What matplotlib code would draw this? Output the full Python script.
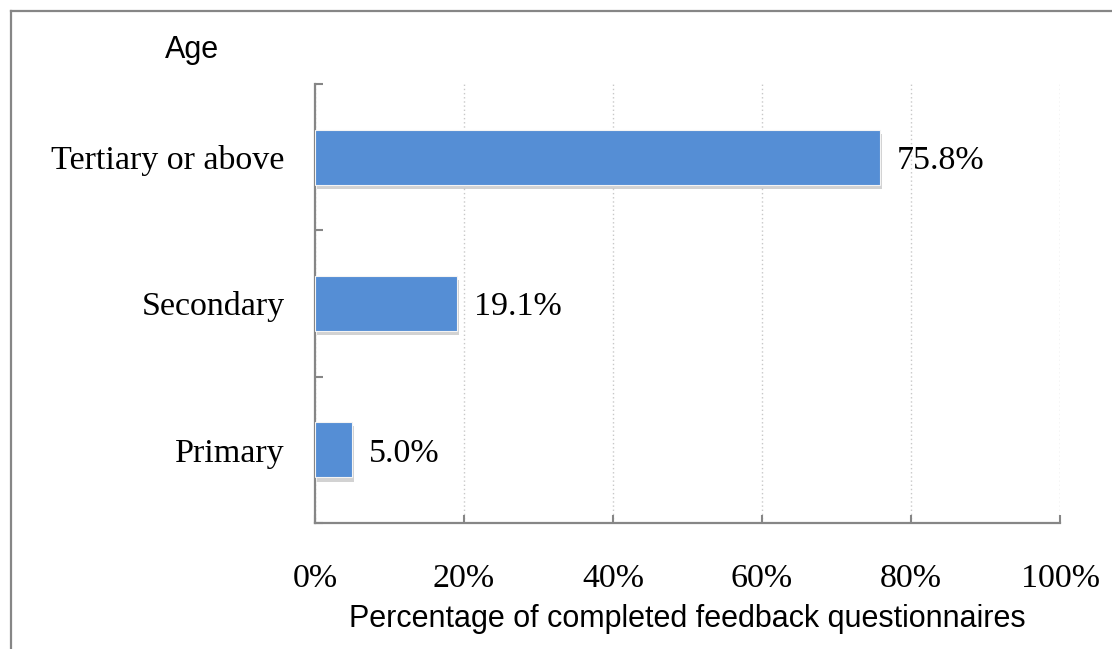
import matplotlib
matplotlib.use("Agg")
import matplotlib.pyplot as plt
from matplotlib.lines import Line2D
from matplotlib import patheffects as pe
from matplotlib.ticker import FixedLocator

categories = ["Primary", "Secondary", "Tertiary or above"]
values = [5.0, 19.1, 75.8]
xticks = [0, 20, 40, 60, 80, 100]
xtick_labels = ["0%", "20%", "40%", "60%", "80%", "100%"]
title = "Age"
xlabel = "Percentage of completed feedback questionnaires"

W, H = 1112, 649
fig = plt.figure(figsize=(W / 100, H / 100), dpi=100)
ax = fig.add_axes([315 / W, 1 - 523 / H, (1060 - 315) / W, (523 - 84) / H])

axis_gray = "#868686"
bar_color = "#558ED5"
serif = ["Liberation Serif", "DejaVu Serif"]
sans = ["Liberation Sans", "DejaVu Sans"]

ypos = list(range(len(categories)))
bars = ax.barh(ypos, values, height=0.376, color=bar_color, edgecolor="#f4f4f4",
               linewidth=0.8, zorder=3)
for b in bars:
    b.set_path_effects([pe.SimplePatchShadow(offset=(1.5, -3), shadow_rgbFace="#909090", alpha=0.4),
                        pe.Normal()])

for y, v in zip(ypos, values):
    ax.text(v + 2.3, y, f"{v:.1f}%", va="center_baseline", ha="left", fontsize=24.5,
            family=serif, color="black")

ax.set_xlim(0, 100)
ax.set_ylim(-0.5, len(categories) - 0.5)

ax.set_xticks(xticks)
ax.set_xticklabels(xtick_labels, family=serif, fontsize=24.5)
ax.tick_params(axis="x", direction="in", length=6, width=1.5, color=axis_gray, pad=29)

ax.set_yticks(ypos)
ax.set_yticklabels(categories, family=serif, fontsize=24.5)
ax.tick_params(axis="y", which="major", length=0, pad=22)
ax.yaxis.set_minor_locator(FixedLocator([-0.5, 0.5, 1.5, 2.5]))
ax.tick_params(axis="y", which="minor", direction="in", length=6, width=1.5, color=axis_gray)

ax.grid(axis="x", linestyle=(0, (1, 2)), color="#c8c8c8", linewidth=1.0, zorder=0)
ax.set_axisbelow(True)

for s in ["top", "right"]:
    ax.spines[s].set_visible(False)
for s in ["left", "bottom"]:
    ax.spines[s].set_color(axis_gray)
    ax.spines[s].set_linewidth(1.6)

ax.set_xlabel(xlabel, family=sans, fontsize=22, va="center")
ax.xaxis.set_label_coords(0.5, -(619 - 523) / (523 - 84))

fig.text(192 / W, 1 - 50 / H, title, family=sans, fontsize=22, ha="center", va="center")

# outer border (left and top edges visible)
bx = 10.5 / W
by = 1 - 10.5 / H
fig.add_artist(Line2D([bx, bx], [0, by], transform=fig.transFigure, color=axis_gray, linewidth=1.6))
fig.add_artist(Line2D([bx, 1.0], [by, by], transform=fig.transFigure, color=axis_gray, linewidth=1.6))

fig.savefig("out.png", dpi=100)
